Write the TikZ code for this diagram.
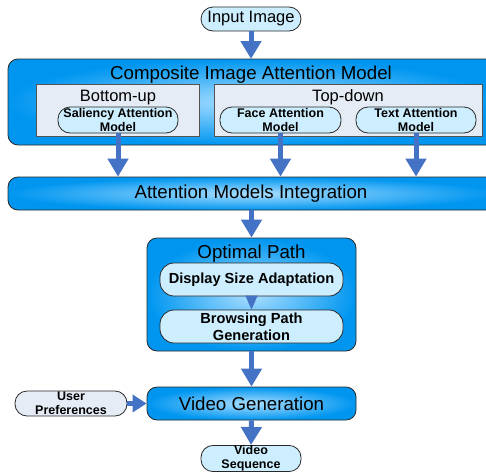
\documentclass[tikz,border=0pt]{standalone}
\usepackage{fontspec}
\setmainfont{Liberation Sans}
\usetikzlibrary{arrows.meta}
\definecolor{bblue}{RGB}{0,150,240}
\definecolor{glow}{RGB}{170,222,255}
\definecolor{pale}{RGB}{205,238,254}
\definecolor{grayb}{RGB}{230,236,246}
\definecolor{arr}{RGB}{68,114,196}
\definecolor{edge}{RGB}{40,40,40}
\tikzset{
  container/.style={draw=edge, line width=0.8pt, rounded corners=10pt, inner color=glow, outer color=bblue},
  pill/.style={draw=edge, line width=0.8pt, fill=pale, rounded corners=12pt, align=center,
    font=\fontsize{12.5}{14.5}\selectfont\bfseries, inner sep=0pt},
  bigpill/.style={pill, rounded corners=14pt, font=\fontsize{14.6}{17}\selectfont\bfseries},
  grp/.style={draw=edge!80, line width=0.8pt, fill=grayb},
  title/.style={font=\fontsize{18.7}{20}\selectfont, inner sep=0pt},
  sub/.style={font=\fontsize{16.5}{18}\selectfont, inner sep=0pt},
  bigarrow/.style={draw=arr, line width=5pt, -{Triangle[width=20pt,length=18pt]}},
  midarrow/.style={draw=arr, line width=5pt, -{Triangle[width=17pt,length=14pt]}},
  smallarrow/.style={draw=arr, line width=1pt, -{Triangle[width=12pt,length=14pt]}},
}
\begin{document}
\begin{tikzpicture}[x=1pt,y=-1pt]
\useasboundingbox (0,0) rectangle (486,474);
\clip (0,0) rectangle (486,474);
% composite model
\path[container] (8,59) rectangle (496,145);
\node[title] (compT) at (251,74.5) {Composite Image Attention Model};
\path[grp] (36,84) rectangle (199,136);
\path[grp] (214,84) rectangle (482,136);
\node[sub] (buT) at (118,97.5) {Bottom-up};
\node[sub] (tdT) at (348,97.5) {Top-down};
\node[pill, minimum width=120pt, minimum height=26pt] (sal) at (118,120) {Saliency Attention\\Model};
\node[pill, minimum width=121pt, minimum height=26pt] (face) at (280.5,120) {Face Attention\\Model};
\node[pill, minimum width=120pt, minimum height=26pt] (txt) at (416,120) {Text Attention\\Model};
% input
\node[pill, font=\fontsize{16.5}{18}\selectfont, minimum width=100pt, minimum height=24pt] (inp) at (251,19) {Input Image};
% integration
\node[container, minimum width=488pt, minimum height=33pt, inner sep=0pt] (integ) at (252,193.5) {};
\node[title] (integT) at (251,193.5) {Attention Models Integration};
% optimal path
\node[container, minimum width=209pt, minimum height=113pt, inner sep=0pt] (opt) at (251.5,294.5) {};
\node[title] (optT) at (251.5,253.5) {Optimal Path};
\node[bigpill, minimum width=183pt, minimum height=33pt] (disp) at (251.5,279.5) {Display Size Adaptation};
\node[bigpill, minimum width=183pt, minimum height=33pt] (brow) at (251.5,326.5) {Browsing Path\\Generation};
% video generation
\node[container, title, minimum width=209pt, minimum height=33pt] (vgen) at (251.5,403.5) {Video Generation};
\node[pill, fill=grayb, minimum width=112pt, minimum height=25pt] (user) at (71,403.5) {User\\Preferences};
\node[pill, minimum width=100pt, minimum height=23pt] (vseq) at (251,458.5) {Video\\Sequence};
% arrows
\draw[bigarrow] (inp.south) -- (inp.south |- 0,59);
\draw[bigarrow] (sal.south) -- (sal.south |- integ.north);
\draw[bigarrow] (face.south) -- (face.south |- integ.north);
\draw[bigarrow] (txt.south) -- (txt.south |- integ.north);
\draw[bigarrow] (opt.north |- integ.south) -- (opt.north);
\draw[smallarrow] (disp.south) -- (brow.north);
\draw[bigarrow] (opt.south) -- (vgen.north);
\draw[midarrow] (user.east) -- (vgen.west);
\draw[bigarrow] (vgen.south) -- (vseq.north);
\end{tikzpicture}
\end{document}
